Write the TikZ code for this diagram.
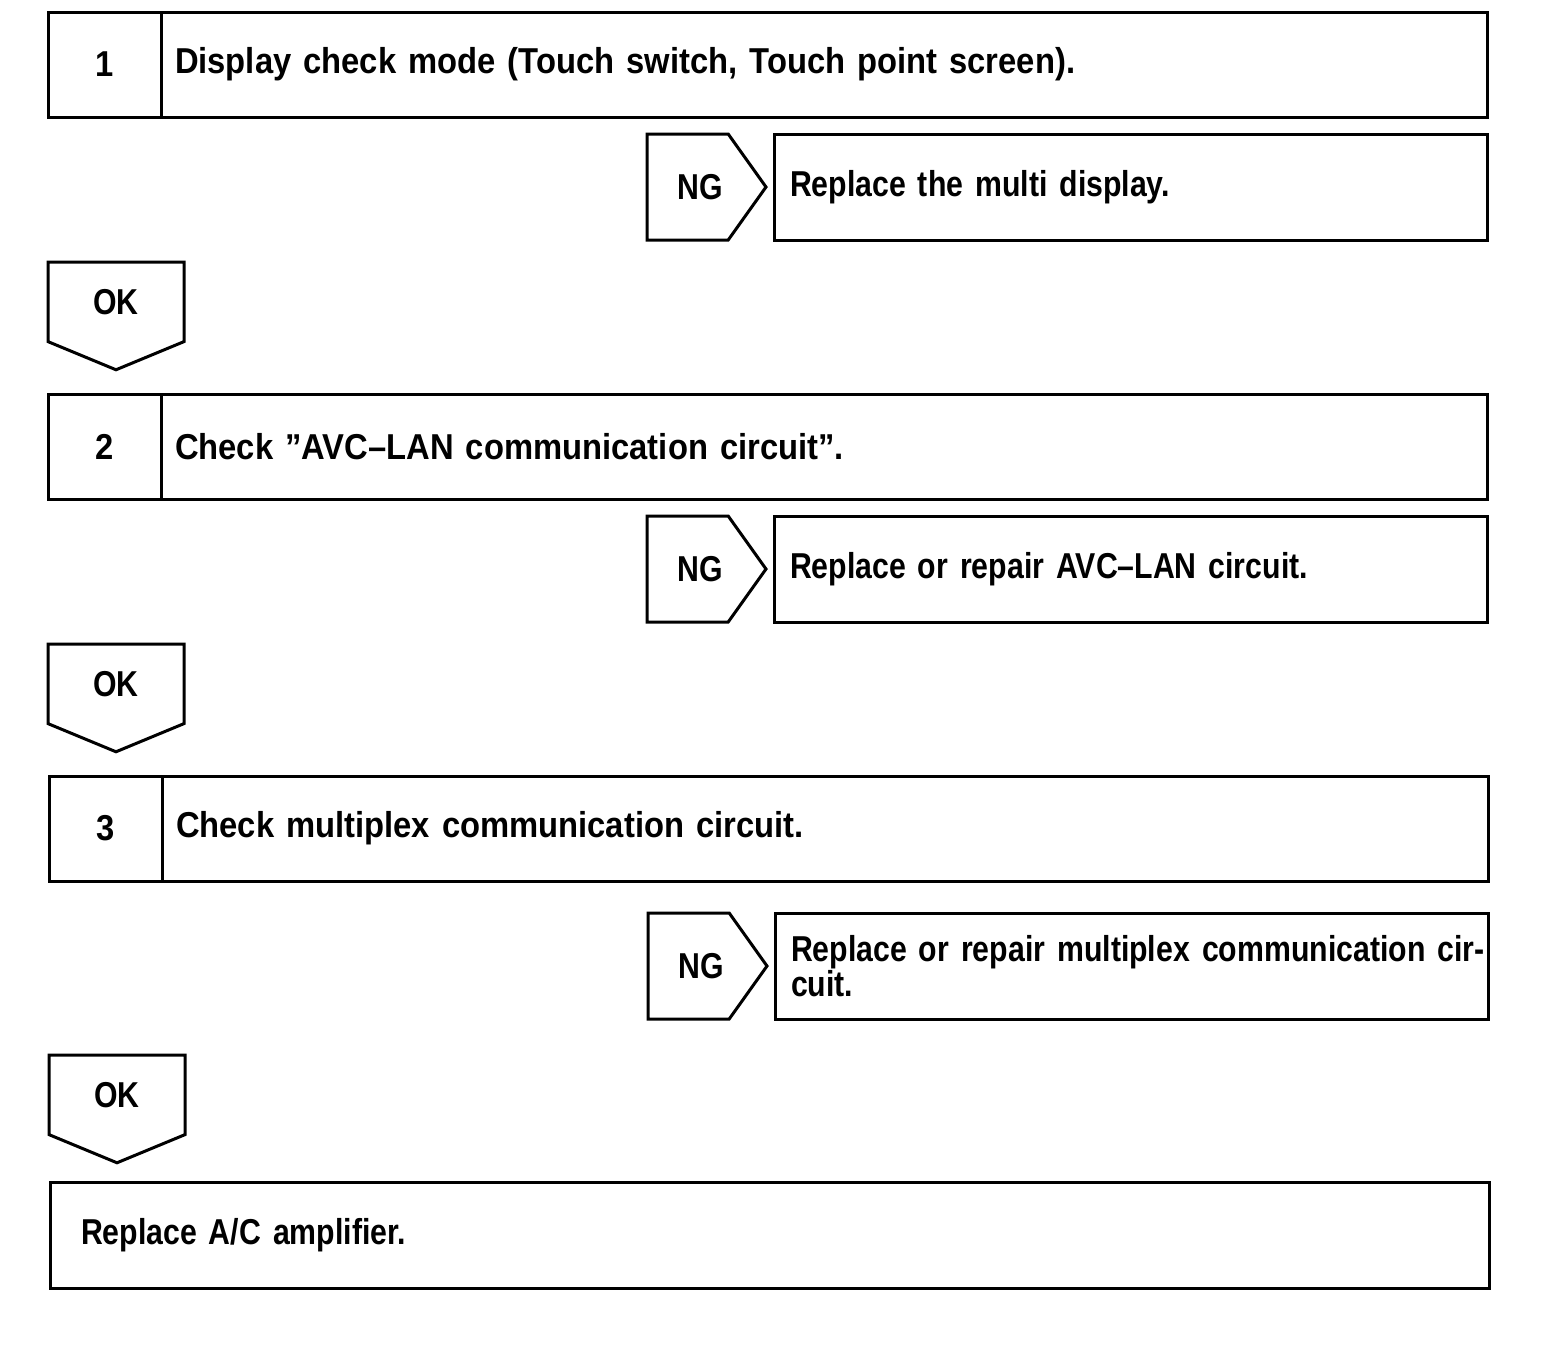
\documentclass[tikz,border=0pt]{standalone}
\usepackage{fontspec}
\setmainfont{Liberation Sans}
\newfontfamily\stepfont{Liberation Sans}[FakeStretch=0.91]
\newfontfamily\resfont{Liberation Sans}[FakeStretch=0.84]
\usetikzlibrary{positioning, shapes.symbols}
\newcommand{\stepsize}{\fontsize{36}{32}\selectfont\bfseries}
\tikzset{
  every node/.style = {outer sep=0pt},
  stepnum/.style  = {draw, line width=3pt, minimum width=113pt, minimum height=105pt,
                     inner sep=0pt, font=\stepfont\stepsize},
  steptxt/.style  = {draw, line width=3pt, minimum height=105pt, text width=1298pt,
                     inner xsep=14pt, inner ysep=0pt, align=left, font=\stepfont\stepsize},
  ngsign/.style   = {draw, line width=3pt, signal, signal to=east, signal pointer angle=109,
                     minimum width=119pt, minimum height=106pt, inner sep=0pt,
                     text width=70pt, align=right, font=\resfont\stepsize},
  oksign/.style   = {draw, line width=3pt, signal, signal to=south, signal pointer angle=135,
                     minimum width=136pt, minimum height=89pt, inner sep=0pt, font=\resfont\stepsize},
  resbox/.style   = {draw, line width=3pt, minimum height=106pt, text width=681pt,
                     inner xsep=16pt, inner ysep=0pt, align=left, font=\resfont\stepsize},
  finbox/.style   = {draw, line width=3pt, minimum height=106pt, text width=1377pt,
                     inner xsep=31pt, inner ysep=0pt, align=left, font=\resfont\stepsize},
}

\begin{document}
\begin{tikzpicture}[x=1pt, y=-1pt]
    \useasboundingbox (0,0) rectangle (1568,1350);

    % Step 1
    \node[stepnum, anchor=north west] (n1) at (48,12)  {1};
    \node[steptxt, right=0pt of n1]   (s1)  {Display check mode (Touch switch, Touch point screen).};
    \node[ngsign, anchor=west]        (ng1) at (647,187) {NG};
    \node[resbox, right=8pt of ng1]   (r1)  {Replace the multi display.};
    \node[oksign, anchor=north]       (ok1) at (116,262) {OK};

    % Step 2
    \node[stepnum, anchor=north west] (n2) at (48,394) {2};
    \node[steptxt, right=0pt of n2]   (s2)  {Check ”AVC–LAN communication circuit”.};
    \node[ngsign, anchor=west]        (ng2) at (647,569) {NG};
    \node[resbox, right=8pt of ng2]   (r2)  {Replace or repair AVC–LAN circuit.};
    \node[oksign, anchor=north]       (ok2) at (116,644) {OK};

    % Step 3
    \node[stepnum, anchor=north west] (n3) at (49,776) {3};
    \node[steptxt, right=0pt of n3]   (s3)  {Check multiplex communication circuit.};
    \node[ngsign, anchor=west]        (ng3) at (648,966) {NG};
    \node[resbox, right=8pt of ng3]   (r3)  {\mbox{Replace or repair multiplex communication cir-}\\cuit.};
    \node[oksign, anchor=north]       (ok3) at (117,1055) {OK};

    % Final
    \node[finbox, anchor=north west]  (fin) at (50,1182) {Replace A/C amplifier.};
  \end{tikzpicture}
\end{document}
